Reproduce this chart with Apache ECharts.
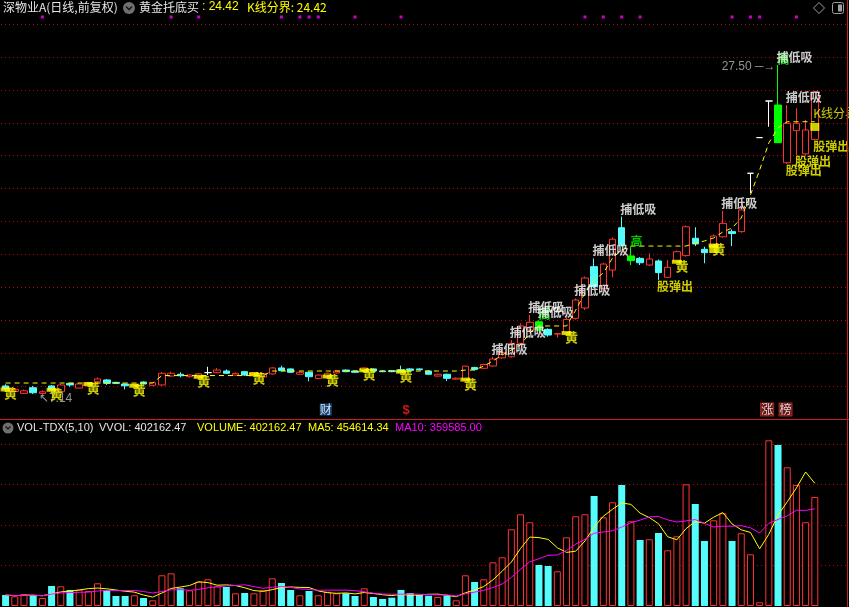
<!DOCTYPE html>
<html><head><meta charset="utf-8">
<script src="https://cdn.jsdelivr.net/npm/echarts@6/dist/echarts.min.js"></script>
<style>html,body{margin:0;padding:0;background:#000;}#c{width:849px;height:607px;}</style>
</head><body><div id="c"></div><script>
// ---------- data (1-based bar numbers in the index lists) ----------
const days = Array.from({length: 92}, (_, i) => String(i + 1));
const openP  = [7.70,7.36,7.24,7.59,7.24,7.70,7.34,7.86,7.57,7.80, 7.96,8.07,7.92,7.82,7.70,7.94,7.74,7.76,8.31,8.42, 8.27,8.25,8.52,8.52,8.62,8.37,8.58,8.40,8.25,8.44, 8.81,8.75,8.42,8.54,8.16,8.27,8.50,8.68,8.62,8.64, 8.75,8.62,8.64,8.70,8.75,8.75,8.62,8.31,8.42,8.12, 8.07,8.84,8.79,8.93,9.43,9.50,10.33,11.15,11.66,11.19, 10.90,10.96,11.87,12.51,15.06,13.72,14.85,17.46,15.43,15.57, 15.16,15.41,14.40,15.37,15.74,16.81,16.13,16.40,16.90,17.22, 17.22,20.82,23.02,25.28,25.03,21.47,23.45,22.02,22.91];
const closeP = [7.51,7.49,7.40,7.28,7.34,7.45,7.76,7.76,7.82,7.90, 8.13,7.86,7.86,7.71,7.80,7.82,7.90,8.48,8.48,8.33, 8.37,8.45,8.52,8.68,8.48,8.48,8.37,8.52,8.46,8.81, 8.64,8.54,8.54,8.27,8.37,8.48,8.62,8.58,8.54,8.81, 8.62,8.58,8.58,8.56,8.66,8.70,8.42,8.42,8.17,8.18, 8.92,8.72,9.02,9.36,9.77,10.33,11.40,11.63,11.15,10.84, 10.93,11.80,13.00,14.36,13.82,15.22,16.75,16.40,15.72,15.30, 15.53,14.69,15.02,15.98,17.52,16.46,15.92,16.95,17.73,17.10, 18.56,20.82,23.02,25.28,22.71,23.90,23.90,23.49,25.85];
const lowP   = [7.42,7.29,7.20,7.20,7.14,7.40,7.33,7.65,7.55,7.75, 7.88,7.76,7.82,7.49,7.65,7.78,7.70,7.70,8.25,8.23, 8.22,8.20,8.37,8.48,8.45,8.33,8.33,8.36,8.22,8.40, 8.60,8.50,8.38,7.99,8.12,8.22,8.46,8.55,8.50,8.60, 8.58,8.55,8.55,8.52,8.62,8.66,8.38,8.27,8.00,8.08, 8.03,8.65,8.75,8.89,9.38,9.45,10.28,11.08,11.08,10.74, 10.68,10.90,11.80,12.38,13.75,13.62,14.40,16.30,15.16,15.16, 15.10,14.24,14.35,15.30,15.67,16.33,15.27,16.30,16.85,16.33, 17.15,19.60,23.02,23.69,22.71,21.40,21.95,21.95,22.85];
const highP  = [7.80,7.57,7.48,7.70,7.42,7.75,7.82,7.88,7.86,7.95, 8.23,8.13,7.96,7.84,7.85,7.98,7.94,8.56,8.58,8.54, 8.42,8.50,8.88,8.80,8.72,8.52,8.62,8.56,8.50,8.85, 8.95,8.78,8.60,8.58,8.40,8.52,8.66,8.72,8.66,8.85, 8.78,8.66,8.68,8.95,8.80,8.78,8.66,8.46,8.46,8.22, 8.95,8.88,9.06,9.50,9.91,10.53,11.56,12.08,11.75,11.25, 10.95,11.90,13.10,14.45,15.57,15.30,16.85,18.15,16.29,15.65, 15.88,15.50,15.47,16.05,17.60,17.49,16.29,17.05,18.51,17.36, 19.07,20.82,23.02,25.28,27.50,25.03,24.83,24.11,25.90];
const volume = [40600,35800,43200,40600,29500,73800,72700,59000,60100,55300, 83700,59000,36900,36900,39500,29500,21000,113300,120600,65300, 57900,89600,98500,72700,70100,46900,48000,46900,57900,102200, 84800,59000,39500,55300,39500,52800,46900,46900,36900,65300, 33200,25800,30600,59000,48000,40600,38000,33200,38000,21000, 113300,88500,98500,161200,179700,283000,338300,308800,151200,147600, 128000,253400,330900,338300,405800,327200,382600,446400,312500,243500, 246100,269300,205500,257100,449000,376300,239800,316100,342000,239800, 268200,190700,13600,611300,593900,511700,446400,308800,402162.47];
const splitLine = [7.88,7.88,7.88,7.88,7.88,7.88,7.88,7.88,7.88,7.88, 7.88,7.88,7.88,7.88,7.88,7.88,7.88,8.34,8.34,8.34, 8.34,8.34,8.34,8.34,8.34,8.34,8.34,8.34,8.34,8.62, 8.62,8.62,8.62,8.62,8.62,8.62,8.62,8.62,8.62,8.62, 8.62,8.62,8.62,8.62,8.62,8.62,8.62,8.62,8.62,8.62, 8.68,8.68,8.93,9.24,9.61,9.92,10.23,10.97,11.40,11.40, 11.40,11.40,12.38,13.43,14.24,14.67,15.59,16.09,16.33,16.33, 16.33,16.33,16.33,16.33,16.33,16.52,16.64,16.83,17.20,17.44, 18.06,19.48,21.02,22.70,23.62,24.00,24.00,24.00,24.00];
const buyBars   = [1,6,10,15,22,28,36,40,44,51,62,74,78];      // 黄
const blockBars = [78,89];  const blockPrice = [16.15,23.68];   // yellow squares
const dipBars   = [54,56,58,59,63,65,68,79,85,86];              // 捕低吸
const sellBars  = [72,86,87,89];                                // 股弹出
const highBars  = [59,69,85];                                   // 高
const dotBars   = [5,19,22,31,33,34,35,39,44,64,66,68,70,80,82,83,87];
const dojiBars  = [23,82,83,84];
const eventBars = [35,44,83,85];  const eventText = ['财','$','涨','榜'];

// ---------- styling ----------
const RED = '#ff3232', CYAN = '#54fcfc', GRID = '#c80000', YEL = '#ffff00', MAG = '#ff00ff';
const CJK = '"Noto Sans CJK SC","Noto Sans",sans-serif';
const LAT = '"Liberation Sans",Arial,sans-serif';
const PMIN = 5.66, PMAX = 30.03, VMAX = 686154;

const candleData = openP.map((o, i) => {
  const it = {value: [o, closeP[i], lowP[i], highP[i]]};
  const n = i + 1;
  if (dojiBars.includes(n)) it.itemStyle = {color:'#ffffff', color0:'#ffffff', borderColor:'#ffffff', borderColor0:'#ffffff'};
  if (highBars.includes(n)) it.itemStyle = {color:'#00ff00', color0:'#00ff00', borderColor:'#00ff00', borderColor0:'#00ff00'};
  return it;
});
const volData = volume.map((v, i) => closeP[i] >= openP[i]
  ? {value: v, itemStyle: {color:'#000', borderColor: RED, borderWidth: 1}}
  : {value: v, itemStyle: {color: CYAN, borderColor: CYAN, borderWidth: 0}});
function ma(n) {
  return volume.map((v, i) => { const s = Math.max(0, i - n + 1); let t = 0;
    for (let j = s; j <= i; j++) t += volume[j]; return +(t / (i - s + 1)).toFixed(2); });
}
const hiI = highP.indexOf(Math.max(...highP));
const loI = lowP.indexOf(Math.min(...lowP));

function labelSeries(points, lab, extra) {
  return Object.assign({type:'scatter', xAxisIndex:0, yAxisIndex:0, symbolSize:1, silent:true, clip:false, z:6,
    itemStyle:{color:'rgba(0,0,0,0)'}, data: points,
    label: Object.assign({show:true}, lab)}, extra || {});
}
const eventStyle = {
  '财': {color:'#ffffff', backgroundColor:'#1d5a9a', fontFamily: CJK, fontSize: 12},
  '$':  {color:'#ff2020', fontWeight:'bold', fontFamily: LAT, fontSize: 13},
  '涨': {color:'#ffffff', backgroundColor:'#7a1a1a', borderColor:'#c03030', borderWidth:1, fontFamily: CJK, fontSize: 12},
  '榜': {color:'#ffffff', backgroundColor:'#7a1a1a', borderColor:'#c03030', borderWidth:1, fontFamily: CJK, fontSize: 12}
};
const VF = '11px ' + LAT;

const option = {
  backgroundColor: '#000',
  animation: false,
  grid: [
    {left: 1, right: 2, top: 24, height: 395, outerBoundsMode: 'none'},
    {left: 1, right: 2, top: 420, height: 186, outerBoundsMode: 'none'}
  ],
  xAxis: [
    {type:'category', gridIndex:0, data: days, boundaryGap:true, show:false},
    {type:'category', gridIndex:1, data: days, boundaryGap:true, show:false}
  ],
  yAxis: [
    {type:'value', gridIndex:0, min:PMIN, max:PMAX, show:false, splitLine:{show:false}},
    {type:'value', gridIndex:0, min:0, max:12, interval:1, axisLine:{show:false}, axisTick:{show:false}, axisLabel:{show:false},
      splitLine:{show:true, lineStyle:{color:GRID, type:[1,3], width:1}}},
    {type:'value', gridIndex:1, min:0, max:VMAX, interval:149400, axisLine:{show:false}, axisTick:{show:false}, axisLabel:{show:false},
      splitLine:{show:true, showMinLine:false, showMaxLine:false, lineStyle:{color:GRID, type:[1,3], width:1}}}
  ],
  series: [
    {type:'candlestick', xAxisIndex:0, yAxisIndex:0, barWidth:7, data: candleData, z:3,
      itemStyle:{color:'#000', color0: CYAN, borderColor: RED, borderColor0: CYAN, borderWidth:1}},
    {type:'line', xAxisIndex:0, yAxisIndex:0, data: splitLine, showSymbol:false, z:4, silent:true,
      lineStyle:{color: YEL, width:1, type:[5,4]}},
    // yellow bars of the 黄 signal
    {type:'scatter', xAxisIndex:0, yAxisIndex:0, symbol:'rect', symbolSize:[10,4], symbolOffset:[0,-1], silent:true, z:7,
      itemStyle:{color: YEL}, data: buyBars.map(n => [n - 1, lowP[n - 1]])},
    {type:'scatter', xAxisIndex:0, yAxisIndex:0, symbol:'rect', symbolSize:[9,8], silent:true, z:7,
      itemStyle:{color: YEL}, data: blockBars.map((n, k) => [n - 1, blockPrice[k]])},
    labelSeries(buyBars.map(n => [n - 1, lowP[n - 1]]),
      {position:[-1,-3], formatter:'黄', color: YEL, fontSize:13, fontWeight:'bold', fontFamily: CJK}, {z:8}),
    labelSeries(highBars.map(n => [n - 1, highP[n - 1]]),
      {position:[0,-11], formatter:'高', color:'#00ff00', fontSize:12, fontWeight:'bold', fontFamily: CJK}),
    labelSeries(dipBars.map(n => [n - 1, highP[n - 1]]),
      {position:[-1,-13], formatter:'捕低吸', color:'#ffffff', fontSize:12, fontWeight:'bold', fontFamily: CJK}, {z:9}),
    labelSeries(sellBars.map(n => [n - 1, lowP[n - 1]]),
      {position:[-1,1], formatter:'股弹出', color: YEL, fontSize:12, fontWeight:'bold', fontFamily: CJK}, {z:9}),
    labelSeries([[88, splitLine[88]]],
      {position:[-1,-14], formatter:'K线分界', color: YEL, fontSize:12, fontFamily: CJK}),
    labelSeries([[hiI, highP[hiI]]],
      {position:[-2,2], align:'right', verticalAlign:'middle', formatter: highP[hiI].toFixed(2) + ' ─→', color:'#b8b8b8', fontSize:12, fontFamily: LAT}),
    labelSeries([[loI, lowP[loI]]],
      {position:[-3,-2], formatter:'↖' + lowP[loI].toFixed(2), color:'#b8b8b8', fontSize:12, fontFamily: LAT}),
    // magenta marks on top
    {type:'scatter', xAxisIndex:0, yAxisIndex:0, symbol:'rect', symbolSize:[3,3], symbolOffset:[0,-7], clip:false, silent:true,
      itemStyle:{color: MAG}, data: dotBars.map(n => [n - 1, PMAX])},
    // event markers at the bottom of the price panel
    labelSeries(eventBars.map((n, k) => ({value:[n - 1, PMIN], label: Object.assign({formatter: eventText[k]}, eventStyle[eventText[k]])})),
      {position:[2,-15]}),
    // volume panel
    {type:'bar', xAxisIndex:1, yAxisIndex:2, barWidth:7, data: volData, z:3},
    {type:'line', xAxisIndex:1, yAxisIndex:2, data: ma(5), showSymbol:false, z:4, lineStyle:{color: YEL, width:1}},
    {type:'line', xAxisIndex:1, yAxisIndex:2, data: ma(10), showSymbol:false, z:4, lineStyle:{color: MAG, width:1}}
  ],
  graphic: [
    {type:'line', shape:{x1:0, y1:419.5, x2:849, y2:419.5}, style:{stroke:'#c81e1e', lineWidth:1}, z:20},
    {type:'line', shape:{x1:847.5, y1:0, x2:847.5, y2:607}, style:{stroke:'#c81e1e', lineWidth:1}, z:20},
    {type:'text', left:3, top:1, style:{text:'深物业A(日线,前复权)', fill:'#e6e6e6', font:'12px ' + CJK}, z:20},
    {type:'circle', shape:{cx:129, cy:8, r:6}, style:{fill:'#707070'}, z:20},
    {type:'polyline', shape:{points:[[126,6.5],[129,9.5],[132,6.5]]}, style:{stroke:'#1a1a1a', lineWidth:1.6, fill:null}, z:21},
    {type:'text', left:139, top:1, style:{text:'黄金托底买', fill:'#e6e6e6', font:'12px ' + CJK}, z:20},
    {type:'text', left:202, top:1, style:{text:': 24.42', fill: YEL, font:'12px ' + LAT}, z:20},
    {type:'text', left:247, top:1, style:{text:'K线分界: 24.42', fill: YEL, font:'12px ' + CJK}, z:20},
    {type:'polygon', shape:{points:[[819,2.5],[824.5,8],[819,13.5],[813.5,8]]}, style:{stroke:'#a0a0a0', fill:null, lineWidth:1}, z:20},
    {type:'rect', shape:{x:832.5, y:2.5, width:11, height:11, r:2}, style:{stroke:'#a0a0a0', fill:null, lineWidth:1}, z:20},
    {type:'rect', shape:{x:838, y:4.5, width:4, height:7}, style:{fill:'#a0a0a0'}, z:20},
    {type:'circle', shape:{cx:8, cy:428, r:5.5}, style:{fill:'#707070'}, z:20},
    {type:'polyline', shape:{points:[[5.5,426.5],[8,429],[10.5,426.5]]}, style:{stroke:'#1a1a1a', lineWidth:1.5, fill:null}, z:21},
    {type:'text', left:17, top:422, style:{text:'VOL-TDX(5,10)', fill:'#e6e6e6', font: VF}, z:20},
    {type:'text', left:99, top:422, style:{text:'VVOL: 402162.47', fill:'#e6e6e6', font: VF}, z:20},
    {type:'text', left:197, top:422, style:{text:'VOLUME: 402162.47', fill: YEL, font: VF}, z:20},
    {type:'text', left:308, top:422, style:{text:'MA5: 454614.34', fill: YEL, font: VF}, z:20},
    {type:'text', left:395, top:422, style:{text:'MA10: 359585.00', fill: MAG, font: VF}, z:20}
  ]
};
const chart = echarts.init(document.getElementById('c'));
chart.setOption(option);
</script></body></html>
